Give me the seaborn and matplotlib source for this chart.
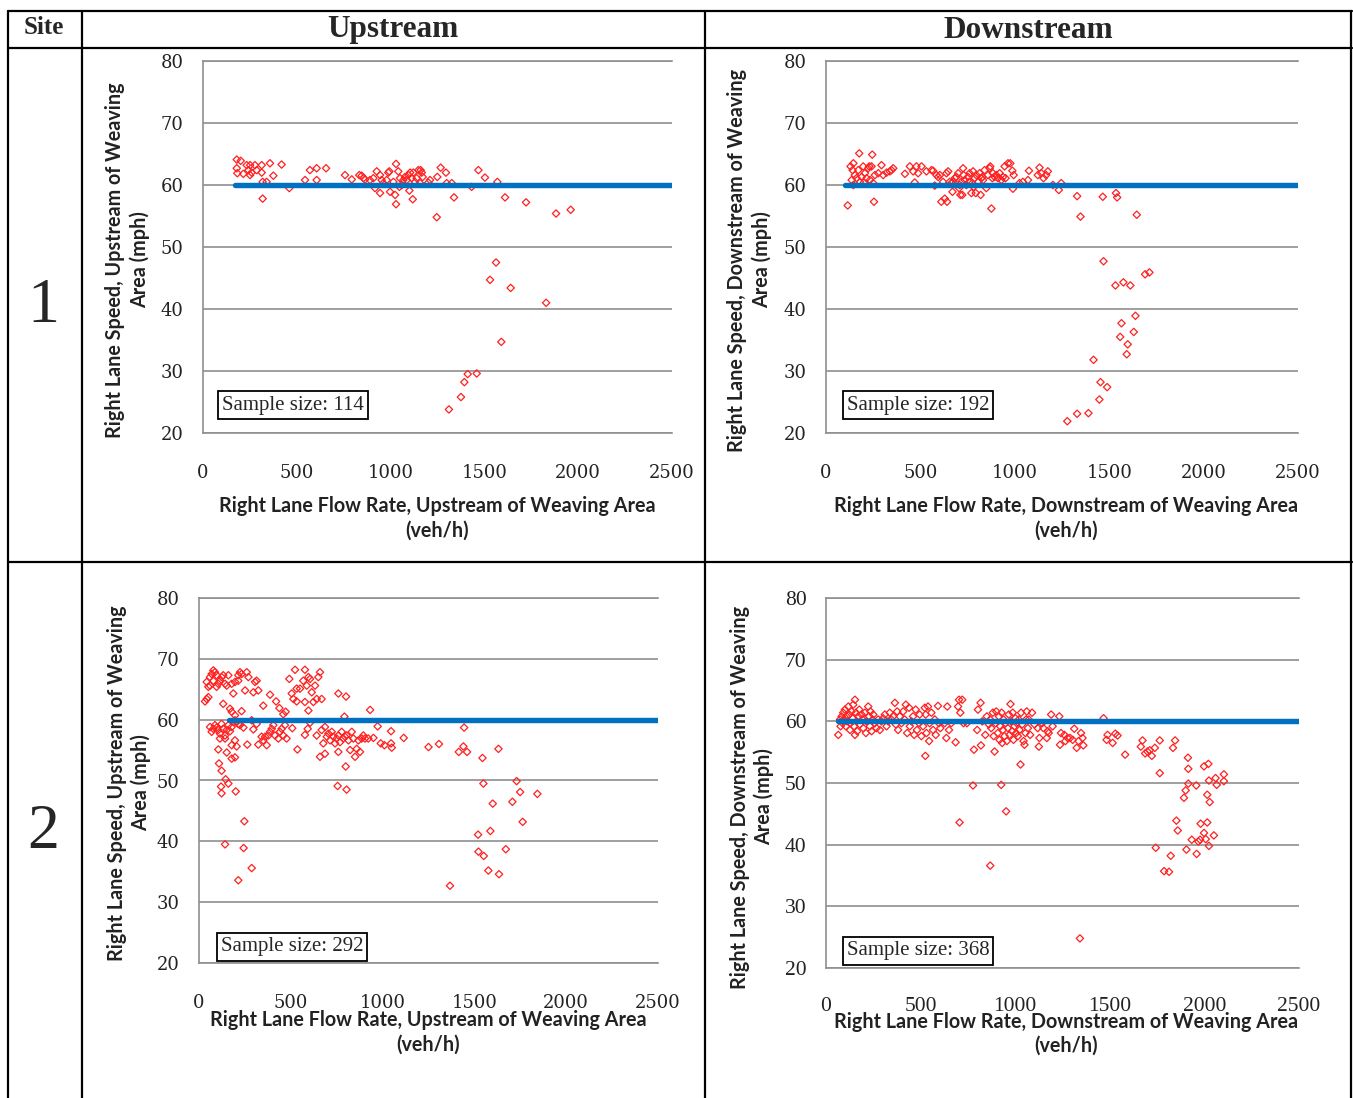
import matplotlib
matplotlib.use("Agg")
import matplotlib.pyplot as plt
from matplotlib.lines import Line2D
import seaborn as sns
import pandas as pd

# ---------------- data ----------------
flow_ticks = [0, 500, 1000, 1500, 2000, 2500]
speed_ticks = [20, 30, 40, 50, 60, 70, 80]
col_titles = ["Upstream", "Downstream"]
row_titles = ["1", "2"]
sample_sizes = [114, 192, 292, 368]
ref_speed = 60

# Site 1, upstream
s1_up_flow = [180,201,180,183,215,233,251,242,251,259,277,286,313,313,318,339,357,375,419,318,
              460,544,570,606,606,656,757,793,833,846,855,864,890,908,917,926,944,944,952,961,
              979,988,993,997,1015,1024,1029,1029,1041,1047,1050,1059,1068,1077,1086,1095,1100,1104,1112,1118,
              1121,1130,1139,1148,1157,1160,1166,1171,1201,1210,1246,1249,1267,1295,1299,1326,1338,1432,1468,1503,
              1569,1610,1722,1882,1960,1562,1530,1640,1829,1590,1459,1411,1393,1375,1311]
s1_up_speed = [64.1,63.9,62.7,61.9,61.8,63.2,63.2,62.4,61.6,62.0,63.2,62.4,63.2,62.0,60.5,60.5,63.5,61.5,63.3,57.8,
               59.5,60.8,62.4,62.7,60.8,62.7,61.6,60.9,61.6,61.5,61.1,60.9,60.8,61.1,59.5,62.2,61.6,58.7,60.8,60.3,
               60.8,62.0,62.2,58.9,60.5,58.4,63.4,56.9,62.2,59.7,61.1,60.0,60.8,61.3,60.8,61.6,59.1,62.0,61.1,57.7,
               62.0,60.5,61.1,62.4,60.3,62.4,62.0,61.3,60.4,60.8,54.8,61.3,62.8,62.0,60.3,60.3,58.0,59.7,62.4,61.2,
               60.5,58.0,57.2,55.4,56.0,47.5,44.7,43.4,41.0,34.7,29.6,29.5,28.2,25.8,23.8]

# Site 1, downstream
s1_dn_flow = [115,145,136,141,130,145,153,162,171,176,180,189,197,201,206,215,224,229,233,241,
              245,250,254,259,277,294,303,321,338,347,356,418,444,462,470,479,488,506,532,559,
              567,576,585,594,603,611,620,629,638,641,647,655,664,670,673,682,691,700,705,708,
              712,717,722,726,729,735,744,752,758,761,770,775,779,782,788,793,796,805,814,819,
              823,828,832,840,849,858,867,870,876,881,884,893,902,911,920,929,937,946,951,964,
              976,987,990,994,1025,1043,1070,1075,1122,1131,1140,1152,1166,1175,1202,1233,1246,1330,1348,1466,
              1536,1542,1646,1470,1533,1575,1612,1690,1713,1639,1565,1630,1558,1598,1593,1417,1454,1489,1448,1390,
              1330,1278]
s1_dn_speed = [56.7,60.0,60.8,62.4,63.0,63.5,61.6,61.1,62.4,65.1,60.5,61.3,63.0,60.4,61.9,61.1,62.7,63.0,60.8,63.0,
               64.9,60.3,57.3,61.6,61.9,63.2,61.6,62.0,62.2,62.4,62.7,61.8,63.0,62.2,60.4,63.0,61.9,63.0,62.2,62.4,
               62.3,59.9,61.6,61.3,61.6,57.3,60.5,57.8,61.9,57.3,62.2,60.5,60.3,58.9,60.5,61.1,61.3,61.9,59.5,60.0,
               58.4,60.5,58.4,62.7,61.6,60.8,60.0,61.3,60.5,61.9,58.7,60.3,62.2,59.7,61.1,58.7,61.6,60.5,61.9,58.4,
               61.1,61.3,60.8,62.4,59.5,61.6,62.7,63.0,56.2,61.1,61.9,61.3,61.6,61.1,61.9,60.8,61.3,63.0,61.1,63.5,
               63.5,62.3,59.4,61.6,60.3,60.5,60.8,62.3,61.6,62.8,61.9,61.1,61.6,62.2,60.0,59.2,60.3,58.2,54.9,58.1,
               58.7,58.0,55.2,47.7,43.8,44.3,43.8,45.6,45.9,38.9,37.7,36.3,35.5,34.3,32.7,31.8,28.2,27.4,25.4,23.2,
               23.1,21.9]

# Site 2, upstream
s2_up_flow = [33,42,51,51,42,60,69,78,87,96,105,114,123,132,142,151,160,78,60,96,
              178,187,196,214,223,232,214,251,260,269,296,305,323,314,132,169,178,196,232,350,
              387,420,438,459,472,492,505,523,514,532,532,550,568,577,577,587,596,605,614,623,
              632,641,650,659,668,596,759,801,792,932,
              60,69,78,87,96,105,114,123,132,142,151,160,169,178,187,196,205,214,223,242,
              114,142,178,196,205,263,287,296,314,323,341,350,360,369,378,387,396,405,414,432,
              441,450,459,468,477,508,536,577,592,605,
              105,151,178,196,109,123,145,160,120,123,200,247,142,243,287,214,
              641,659,668,677,686,696,705,714,723,732,741,750,759,768,759,777,786,795,804,814,
              823,832,841,850,859,868,877,886,895,904,922,950,799,755,804,686,
              973,990,1010,1046,1046,1050,1115,1250,1307,1415,1440,1444,1460,1544,1549,1631,1600,1730,1749,1707,
              1843,1763,1520,1587,1522,1551,1671,1576,1634,1367]
s2_up_speed = [63.0,63.4,63.7,65.4,66.2,67.0,67.5,68.1,67.8,67.3,65.9,66.4,67.0,67.3,65.9,65.6,67.3,66.4,65.6,65.4,
               65.9,64.3,66.2,66.4,67.8,67.5,67.3,64.8,67.8,67.0,64.5,66.2,64.8,66.4,62.6,61.8,61.3,60.7,61.4,62.3,
               64.1,63.0,61.9,60.9,61.3,66.7,64.3,68.2,63.4,65.1,63.0,65.1,66.4,68.2,62.9,65.6,67.0,66.7,64.5,62.9,
               65.6,63.4,67.0,67.8,63.4,61.5,64.3,63.8,60.5,61.6,
               58.8,58.0,58.5,59.1,58.7,58.3,57.7,59.3,58.5,57.4,58.3,59.1,58.1,58.8,59.6,59.9,59.6,59.3,59.1,58.7,
               56.9,56.9,55.8,56.6,55.6,55.9,59.9,58.4,59.3,55.9,57.2,56.6,57.2,55.8,57.4,58.0,58.5,59.1,57.4,56.9,
               58.0,58.5,57.4,59.1,56.9,58.6,55.1,57.5,58.5,59.5,
               55.1,54.6,53.6,53.8,52.8,51.6,50.2,49.5,49.0,47.9,48.2,43.3,39.5,38.9,35.6,33.6,
               57.4,53.9,58.3,56.1,58.8,57.2,57.7,56.6,58.0,57.2,56.1,56.9,57.4,56.3,54.7,58.0,56.9,57.2,57.4,56.6,
               55.0,58.0,56.9,53.9,55.2,56.6,54.7,56.9,57.4,56.9,56.9,57.0,52.3,49.1,48.5,54.4,
               58.9,56.1,55.8,58.1,56.1,55.4,57.0,55.5,56.0,54.7,55.6,58.7,54.7,53.7,49.5,55.2,46.2,49.9,48.1,46.5,
               47.8,43.2,41.1,41.7,38.3,37.6,38.7,35.2,34.6,32.7]

# Site 2, downstream
s2_dn_flow = [65,74,77,83,88,91,95,100,105,109,112,118,123,127,130,135,141,144,148,153,
              153,158,162,165,170,176,179,188,193,197,206,211,214,223,228,232,235,241,246,250,
              258,267,276,285,293,302,311,320,329,337,346,355,364,369,376,381,390,399,408,416,
              422,429,439,443,452,460,466,474,481,492,495,504,513,522,525,527,531,539,545,548,
              557,566,575,580,592,597,604,627,636,641,650,662,685,698,703,710,720,727,745,777,
              782,799,803,817,819,826,842,850,861,868,873,882,886,891,896,900,908,914,917,921,
              926,928,931,935,938,944,949,952,956,961,966,970,975,979,984,987,991,996,1001,1005,
              1008,1014,1019,1023,1028,1031,1037,1044,1049,1054,1058,1061,1067,1072,1079,1089,1102,1119,1125,1128,
              1142,1149,1167,1172,1177,1190,1198,1233,1237,1242,1260,1265,1277,1290,1304,1312,1325,1335,1348,1356,
              1360,1342,706,868,
              1467,1483,1488,1515,1529,1541,1581,1664,1673,1687,1699,1711,1722,1738,1764,1764,1834,1845,1913,1915,
              1915,1901,1892,1957,1998,2021,2024,2015,2028,2059,2065,2103,2103,1852,1859,1980,2015,1998,2007,2050,
              1933,1968,1977,2024,1743,1822,1905,1959,1787,1813]
s2_dn_speed = [57.8,60.3,59.2,60.8,59.7,61.4,60.3,61.9,59.2,60.8,60.0,62.4,61.1,58.6,59.7,61.6,60.5,62.7,59.2,63.5,
               57.8,61.4,60.0,58.4,60.8,61.9,59.5,61.1,60.3,58.9,61.4,58.1,60.0,62.4,60.8,59.2,61.6,58.4,60.3,61.1,
               59.7,58.9,60.3,58.6,60.0,60.5,61.1,59.2,60.0,61.4,60.3,60.8,63.0,59.5,61.6,58.6,60.8,59.7,61.6,60.3,
               62.7,58.1,62.2,59.2,60.0,60.8,57.8,61.9,58.6,59.7,61.1,57.6,59.2,62.2,54.4,61.1,58.1,62.4,56.8,59.7,
               61.4,58.6,60.3,57.8,62.5,59.7,58.9,59.7,57.3,62.4,58.6,59.7,56.6,62.4,63.5,61.4,63.5,59.7,59.7,49.6,
               55.4,58.6,61.9,63.0,56.1,60.0,57.8,60.8,59.5,60.3,58.9,61.4,57.6,55.1,59.7,61.6,58.1,60.8,57.0,59.2,
               49.7,61.4,56.5,58.6,60.3,57.6,59.7,45.4,56.8,58.9,61.1,57.8,62.8,60.0,58.4,61.4,57.0,59.2,60.5,58.1,
               59.7,57.6,60.3,58.6,53.0,61.4,59.5,56.8,56.2,58.1,60.3,61.6,58.9,60.3,57.8,61.4,59.5,58.9,55.9,57.3,
               59.7,58.9,57.3,58.4,58.1,61.1,59.2,60.8,56.2,58.1,57.8,56.8,57.3,57.3,57.0,58.8,55.7,56.8,58.1,57.3,
               56.1,24.8,43.6,36.6,
               60.5,57.0,57.8,56.5,58.0,57.7,54.6,55.9,56.9,54.8,55.1,55.3,54.4,55.7,56.9,51.6,55.7,56.9,54.1,52.3,
               49.9,48.8,47.6,49.6,52.7,53.1,50.4,48.1,46.9,50.8,49.7,51.4,50.3,43.9,42.3,43.4,43.6,41.9,40.9,41.5,
               40.8,40.5,40.8,39.8,39.5,38.2,39.2,38.5,35.7,35.6]

# start of the 60 mph reference line in each panel
ref_start = [170, 100, 165, 65]

xlabels = ["Right Lane Flow Rate, Upstream of Weaving Area",
           "Right Lane Flow Rate, Downstream of Weaving Area"]
ylabels = ["Right Lane Speed, Upstream of Weaving",
           "Right Lane Speed, Downstream of Weaving"]

# ---------------- figure ----------------
sns.set_style("white")
plt.rcParams["font.family"] = ["DejaVu Sans"]
W, H = 1353, 1098
fig = plt.figure(figsize=(W / 100, H / 100), dpi=100)

def fx(x):
    return x / W

def fy(y):
    return 1 - y / H

def line(x0, y0, x1, y1, lw=1.6):
    fig.add_artist(Line2D([fx(x0), fx(x1)], [fy(y0), fy(y1)], color="black", lw=lw,
                          transform=fig.transFigure))

# table grid
line(8, 11, 1352, 11)
line(8, 48, 1352, 48)
line(8, 562, 1352, 562)
line(8, 11, 8, 1098)
line(82, 11, 82, 1098)
line(705, 11, 705, 1098)
line(1351, 11, 1351, 1098)

fig.text(fx(44), fy(28), "Site", fontsize=18, fontweight="bold", family="Liberation Serif",
         ha="center", va="center")
fig.text(fx(393), fy(30), col_titles[0], fontsize=22.5, fontweight="bold", family="Liberation Serif",
         ha="center", va="center")
fig.text(fx(1028), fy(30), col_titles[1], fontsize=22.5, fontweight="bold", family="Liberation Serif",
         ha="center", va="center")
fig.text(fx(43), fy(307), row_titles[0], fontsize=46, family="Liberation Serif", ha="center", va="center")
fig.text(fx(43), fy(833), row_titles[1], fontsize=46, family="Liberation Serif", ha="center", va="center")

panels = [
    dict(box=(203, 61, 672, 433), fl=s1_up_flow, sp=s1_up_speed, col=0,
         xl=(437, 506, 531), yl=(115, 140, 260), ss=(293, 405), tickfont="DejaVu Serif"),
    dict(box=(826, 61, 1298, 433), fl=s1_dn_flow, sp=s1_dn_speed, col=1,
         xl=(1066, 506, 531), yl=(737, 762, 260), ss=(918, 405), tickfont="DejaVu Serif"),
    dict(box=(199, 598, 658, 963), fl=s2_up_flow, sp=s2_up_speed, col=0,
         xl=(428, 1020, 1045), yl=(117, 141, 783), ss=(292, 947), tickfont="DejaVu Serif"),
    dict(box=(826, 598, 1299, 968), fl=s2_dn_flow, sp=s2_dn_speed, col=1,
         xl=(1066, 1022, 1046), yl=(740, 764, 797), ss=(918, 951), tickfont="Liberation Serif"),
]

grid_c = "#8f8f8f"
for i, p in enumerate(panels):
    x0, y0, x1, y1 = p["box"]
    ax = fig.add_axes([fx(x0), fy(y1), (x1 - x0) / W, (y1 - y0) / H])
    df = pd.DataFrame({"flow": p["fl"], "speed": p["sp"]})
    sns.scatterplot(data=df, x="flow", y="speed", ax=ax, marker="D", s=14,
                    facecolor="none", edgecolor="#ff2020", linewidth=0.9, zorder=3)
    ref = pd.DataFrame({"flow": [ref_start[i], flow_ticks[-1]], "speed": [ref_speed, ref_speed]})
    sns.lineplot(data=ref, x="flow", y="speed", ax=ax, color="#0070C0", linewidth=3.9,
                 zorder=4, solid_capstyle="round")
    ax.set_xlim(flow_ticks[0], flow_ticks[-1])
    ax.set_ylim(speed_ticks[0], speed_ticks[-1])
    ax.set_xticks(flow_ticks)
    ax.set_yticks(speed_ticks)
    ax.grid(axis="y", color=grid_c, lw=1.2)
    ax.grid(axis="x", visible=False)
    ax.set_axisbelow(True)
    for side in ["top", "bottom", "left"]:
        ax.spines[side].set_color(grid_c)
        ax.spines[side].set_linewidth(1.2)
    ax.spines["right"].set_visible(False)
    ax.set_xlabel("")
    ax.set_ylabel("")
    fs = 13 if i < 3 else 15.5
    ax.tick_params(axis="both", length=0, labelsize=fs)
    ax.tick_params(axis="y", pad=14)
    ax.tick_params(axis="x", pad=22 if i < 3 else 21)
    for t in ax.get_xticklabels() + ax.get_yticklabels():
        t.set_fontfamily(p["tickfont"])
        t.set_color("#222222")

    cx, ly1, ly2 = p["xl"]
    fig.text(fx(cx), fy(ly1), xlabels[p["col"]], fontsize=14.2, family="Lato", fontweight="bold",
             ha="center", va="center", color="#222222")
    fig.text(fx(cx), fy(ly2), "(veh/h)", fontsize=14.2, family="Lato", fontweight="bold",
             ha="center", va="center", color="#222222")
    lx1, lx2, cy = p["yl"]
    fig.text(fx(lx1), fy(cy), ylabels[p["col"]], fontsize=14.2, family="Lato", fontweight="bold",
             ha="center", va="center", rotation=90, color="#222222")
    fig.text(fx(lx2), fy(cy), "Area (mph)", fontsize=14.2, family="Lato", fontweight="bold",
             ha="center", va="center", rotation=90, color="#222222")
    sx, sy = p["ss"]
    fig.text(fx(sx), fy(sy), f"Sample size: {sample_sizes[i]}", fontsize=15, family="Liberation Serif",
             ha="center", va="center",
             bbox=dict(boxstyle="square,pad=0.2", facecolor="white", edgecolor="black", linewidth=1.3))

fig.savefig("out.png", dpi=100, facecolor="white")
